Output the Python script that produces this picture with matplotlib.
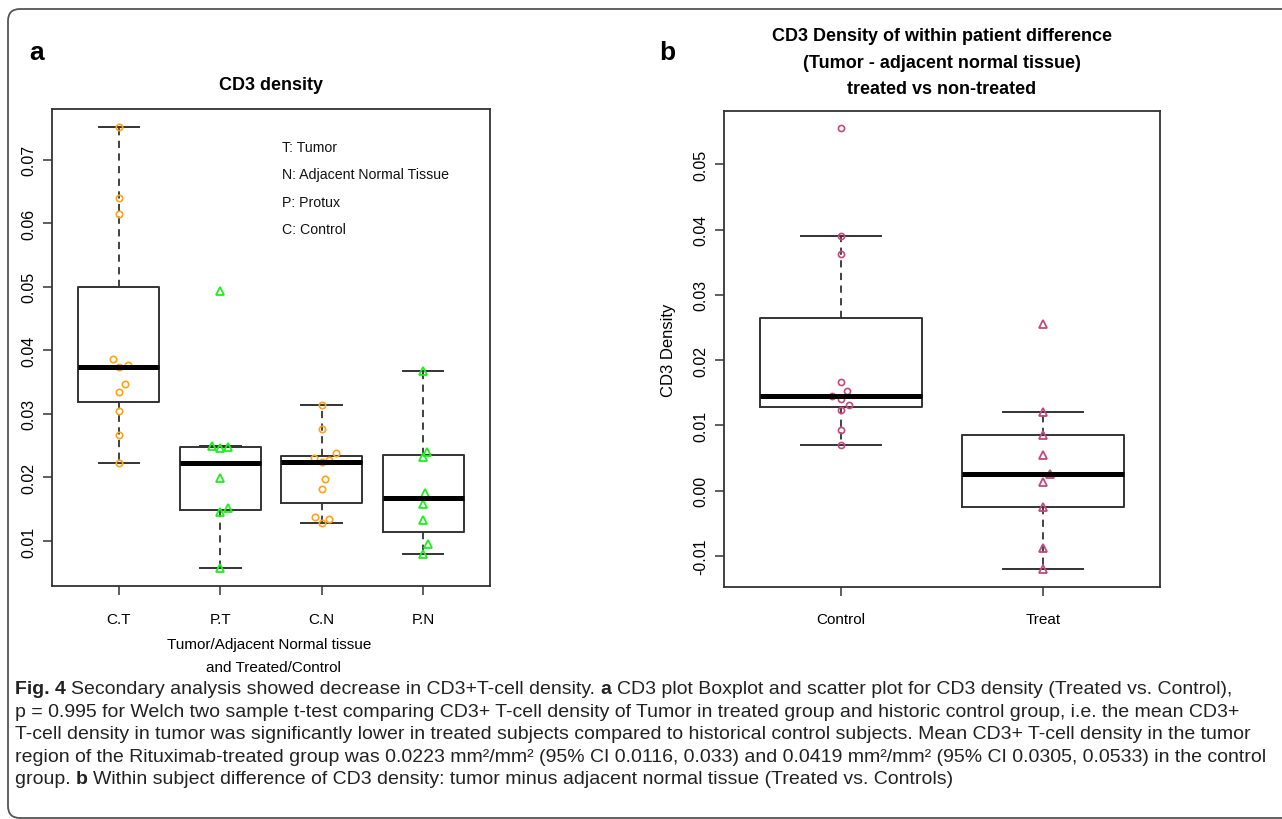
import matplotlib
matplotlib.use("Agg")
import matplotlib.pyplot as plt
from matplotlib import font_manager
from matplotlib.patches import FancyBboxPatch
from matplotlib.transforms import IdentityTransform
import numpy as np

# ---- panel a: CD3 density per group ----
groups_a = ["C.T", "P.T", "C.N", "P.N"]
ct = [0.0752, 0.0639, 0.0614, 0.0386, 0.0374, 0.0377, 0.0347, 0.0334, 0.0304, 0.0267, 0.0222]
pt = [0.0493, 0.0249, 0.0247, 0.0248, 0.0199, 0.0152, 0.0146, 0.0057]
cn = [0.0314, 0.0277, 0.0239, 0.0230, 0.0224, 0.0227, 0.0198, 0.0182, 0.0137, 0.0135, 0.0128]
pn = [0.0367, 0.0240, 0.0232, 0.0176, 0.0159, 0.0133, 0.0095, 0.0080]
# horizontal jitter of the points (category units)
ct_jit = [0, 0, 0, -0.06, 0, 0.09, 0.06, 0, 0, 0, 0]
pt_jit = [0, -0.08, 0, 0.08, 0, 0.08, 0, 0]
cn_jit = [0, 0, 0.14, -0.08, 0, 0.07, 0.03, 0, -0.07, 0.07, 0]
pn_jit = [0, 0.04, 0, 0.02, 0, 0, 0.05, 0]
legend_a = ["T: Tumor", "N: Adjacent Normal Tissue", "P: Protux", "C: Control"]

# ---- panel b: within patient difference ----
groups_b = ["Control", "Treat"]
control = [0.0555, 0.0390, 0.0362, 0.0167, 0.0152, 0.0145, 0.0140, 0.0131, 0.0124, 0.0093, 0.0070]
treat = [0.0255, 0.0121, 0.0086, 0.0055, 0.0025, 0.0013, -0.0025, -0.0087, -0.0120]
control_jit = [0, 0, 0, 0, 0.03, -0.045, 0, 0.04, 0, 0, 0]
treat_jit = [0, 0, 0, 0, 0.036, 0, 0, 0, 0]

caption = [
    [("Fig. 4", "bold"), (" Secondary analysis showed decrease in CD3+T-cell density. ", "normal"),
     ("a", "bold"), (" CD3 plot Boxplot and scatter plot for CD3 density (Treated vs. Control),", "normal")],
    [("p = 0.995 for Welch two sample t-test comparing CD3+ T-cell density of Tumor in treated group "
      "and historic control group, i.e. the mean CD3+", "normal")],
    [("T-cell density in tumor was significantly lower in treated subjects compared to historical "
      "control subjects. Mean CD3+ T-cell density in the tumor", "normal")],
    [("region of the Rituximab-treated group was 0.0223 mm²/mm² (95% CI 0.0116, 0.033) and "
      "0.0419 mm²/mm² (95% CI 0.0305, 0.0533) in the control", "normal")],
    [("group. ", "normal"), ("b", "bold"),
     (" Within subject difference of CD3 density: tumor minus adjacent normal tissue (Treated vs. Controls)", "normal")],
]

ORANGE = "#FFA31A"
GREEN = "#1CF01C"
PINK = "#C24A7C"
LINE = "#333333"

names = {f.name for f in font_manager.fontManager.ttflist}
sans = next((n for n in ["Liberation Sans", "Arial"] if n in names), "DejaVu Sans")
plt.rcParams["font.family"] = [sans, "DejaVu Sans"]


def fivenum(v):
    x = np.sort(np.asarray(v, dtype=float))
    n = len(x)
    n4 = np.floor((n + 3) / 2) / 2
    d = np.array([1, n4, (n + 1) / 2, n + 1 - n4, n]) - 1
    return 0.5 * (x[np.floor(d).astype(int)] + x[np.ceil(d).astype(int)])


def box_stats(v):
    _, q1, med, q3, _ = fivenum(v)
    iqr = q3 - q1
    v = np.asarray(v)
    inside = v[(v >= q1 - 1.5 * iqr) & (v <= q3 + 1.5 * iqr)]
    return dict(q1=q1, med=med, q3=q3, whislo=inside.min(), whishi=inside.max(), fliers=[])


def r_boxplot(ax, data):
    ax.bxp([box_stats(d) for d in data], positions=range(1, len(data) + 1), widths=0.8,
           capwidths=0.4, showfliers=False,
           boxprops=dict(color=LINE, lw=1.4),
           medianprops=dict(color="black", lw=3.6, solid_capstyle="butt"),
           whiskerprops=dict(color=LINE, lw=1.3, ls=(0, (4, 3))),
           capprops=dict(color=LINE, lw=1.4))


def style_axes(ax, n):
    for s in ax.spines.values():
        s.set_color(LINE)
        s.set_linewidth(1.3)
    ax.set_xlim(0.5 - 0.04 * n, n + 0.5 + 0.04 * n)
    ax.tick_params(length=6.5, width=1.1, color=LINE, pad=5)
    ax.tick_params(axis="y", labelsize=11.5)
    ax.tick_params(axis="x", labelsize=11, pad=12)
    for lbl in ax.get_yticklabels():
        lbl.set_rotation(90)
        lbl.set_va("center")


fig = plt.figure(figsize=(12.82, 8.2), dpi=100)
W, H = 1282, 820

# ---------- panel a ----------
ax1 = fig.add_axes([52 / W, 1 - 587 / H, 438 / W, 477 / H])
data_a = [ct, pt, cn, pn]
jit_a = [ct_jit, pt_jit, cn_jit, pn_jit]
r_boxplot(ax1, data_a)
for i, (vals, jit) in enumerate(zip(data_a, jit_a)):
    xs = np.array(jit) + i + 1
    if groups_a[i].startswith("C"):
        ax1.plot(xs, vals, "o", ms=4.6, mfc="none", mec=ORANGE, mew=1.2)
    else:
        ax1.plot(xs, vals, "^", ms=6, mfc="none", mec=GREEN, mew=1.3)
allv = np.concatenate(data_a)
rng = allv.max() - allv.min()
ax1.set_ylim(allv.min() - 0.04 * rng, allv.max() + 0.04 * rng)
ax1.set_yticks([0.01, 0.02, 0.03, 0.04, 0.05, 0.06, 0.07])
ax1.set_xticks(range(1, 5), groups_a)
style_axes(ax1, 4)
for k, t in enumerate(legend_a):
    ax1.text(0.525, 0.920 - k * 0.0573, t, transform=ax1.transAxes, fontsize=10.2,
             ha="left", va="center", color="#111")
fig.text(271 / W, 1 - 85 / H, "CD3 density", ha="center", va="center",
         fontsize=13, fontweight="bold")
fig.text(269 / W, 1 - 645 / H, "Tumor/Adjacent Normal tissue", ha="center", va="center", fontsize=11)
fig.text(273 / W, 1 - 668 / H, "and Treated/Control", ha="center", va="center", fontsize=11)

# ---------- panel b ----------
ax2 = fig.add_axes([724 / W, 1 - 587.7 / H, 436 / W, 476 / H])
r_boxplot(ax2, [control, treat])
ax2.plot(np.array(control_jit) + 1, control, "o", ms=4.4, mfc="none", mec=PINK, mew=1.2)
ax2.plot(np.array(treat_jit) + 2, treat, "^", ms=6, mfc="none", mec=PINK, mew=1.3)
allb = np.concatenate([control, treat])
rngb = allb.max() - allb.min()
ax2.set_ylim(allb.min() - 0.04 * rngb, allb.max() + 0.04 * rngb)
ax2.set_yticks([-0.01, 0.0, 0.01, 0.02, 0.03, 0.04, 0.05])
ax2.set_yticklabels([f"{v:.2f}" for v in ax2.get_yticks()])
ax2.set_xticks([1, 2], groups_b)
style_axes(ax2, 2)
fig.text(668 / W, 1 - 350 / H, "CD3 Density", rotation=90, ha="center", va="center", fontsize=12)
title_b = ["CD3 Density of within patient difference", "(Tumor - adjacent normal tissue)",
           "treated vs non-treated"]
for k, t in enumerate(title_b):
    fig.text(942 / W, 1 - (36.5 + 26.5 * k) / H, t, ha="center", va="center",
             fontsize=13, fontweight="bold")

# panel letters
fig.text(37 / W, 1 - 53 / H, "a", ha="center", va="center", fontsize=19, fontweight="bold")
fig.text(667 / W, 1 - 53 / H, "b", ha="center", va="center", fontsize=19, fontweight="bold")

# ---------- caption ----------
renderer = fig.canvas.get_renderer()


def width_px(s, **kw):
    t1 = fig.text(0, 0, "|" + s + "|", **kw)
    t0 = fig.text(0, 0, "||", **kw)
    w = t1.get_window_extent(renderer).width - t0.get_window_extent(renderer).width
    t1.remove()
    t0.remove()
    return w


cap_font = dict(fontsize=14, color="#222")
for k, line in enumerate(caption):
    x = 15.0
    y = 1 - (690 + 22.5 * k) / H
    for seg, weight in line:
        lead = len(seg) - len(seg.lstrip(" "))
        x += width_px(seg[:lead], fontweight=weight, **cap_font) if lead else 0
        body = seg.lstrip(" ")
        fig.text(x / W, y, body, ha="left", va="center", fontweight=weight, **cap_font)
        x += width_px(body, fontweight=weight, **cap_font)

# rounded frame
frame = FancyBboxPatch((8, 1), 1310, 809, boxstyle="round,pad=0,rounding_size=12",
                       transform=IdentityTransform(), fill=False, ec="#555", lw=1.3)
fig.patches.append(frame)

fig.savefig("out.png", dpi=100)
